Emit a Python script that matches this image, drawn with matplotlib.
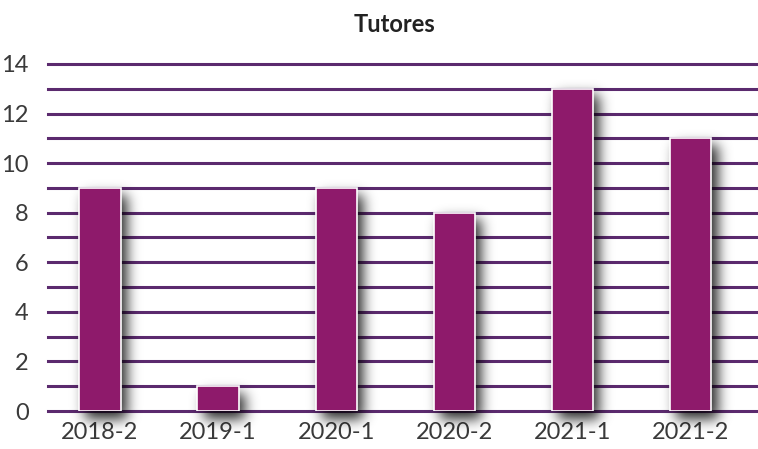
import numpy as np
import matplotlib.pyplot as plt

periodos = ["2018-2", "2019-1", "2020-1", "2020-2", "2021-1", "2021-2"]
tutores = [9, 1, 9, 8, 13, 11]

cor_barra = "#8e1a6b"
cor_grade = "#5b2a6e"

plt.rcParams["font.family"] = ["Lato", "DejaVu Sans"]

fig = plt.figure(figsize=(7.58, 4.49), dpi=100)
ax = fig.add_axes([48 / 758, 38 / 449, 710 / 758, 347 / 449])

x = np.arange(len(periodos))
larg = 0.35
x0, x1 = -0.44, 5.57
ax.set_xlim(x0, x1)
ax.set_ylim(0, 14)

# linhas horizontais a cada unidade
for yy in range(0, 15):
    ax.axhline(yy, color=cor_grade, lw=2.2, zorder=1, clip_on=False)

# sombra difusa das barras: mascara deslocada e desfocada
ppx, ppy = 118.2, 24.8  # pixels por unidade
ey0, ey1 = -1.5, 14.6
nx = int((x1 - x0) * ppx)
ny = int((ey1 - ey0) * ppy)
gx = x0 + (np.arange(nx) + 0.5) / ppx
gy = ey0 + (np.arange(ny) + 0.5) / ppy
X, Y = np.meshgrid(gx, gy)
mask = np.zeros_like(X)
dx, dy = 6 / ppx, -8 / ppy
for xi, v in zip(x, tutores):
    dentro = ((X > xi - larg / 2 + dx) & (X < xi + larg / 2 + dx)
              & (Y > dy) & (Y < v + dy))
    mask[dentro] = 1.0
sig = 6.5
t = np.arange(-20, 21)
kern = np.exp(-t ** 2 / (2 * sig ** 2))
kern /= kern.sum()
mask = np.apply_along_axis(lambda r: np.convolve(r, kern, mode="same"), 1, mask)
mask = np.apply_along_axis(lambda c: np.convolve(c, kern, mode="same"), 0, mask)
rgba = np.zeros((ny, nx, 4))
rgba[..., 3] = 0.85 * mask
ax.imshow(rgba, extent=(x0, x1, ey0, ey1), origin="lower", aspect="auto",
          interpolation="bilinear", zorder=2, clip_on=False)
ax.set_xlim(x0, x1)
ax.set_ylim(0, 14)

ax.bar(x, tutores, width=larg, color=cor_barra, edgecolor="white",
       linewidth=1.2, zorder=3)

ax.set_xticks(x)
ax.set_xticklabels(periodos)
ax.set_yticks(range(0, 15, 2))
for s in ax.spines.values():
    s.set_visible(False)
ax.tick_params(length=0, labelsize=17, colors="#3a3a3a")
ax.tick_params(axis="y", pad=14)
ax.tick_params(axis="x", pad=8)

fig.text(395 / 758, 1 - 25 / 449, "Tutores", fontsize=17, fontweight="bold",
         color="#222222", ha="center", va="center")

fig.savefig("out.png", dpi=100)
